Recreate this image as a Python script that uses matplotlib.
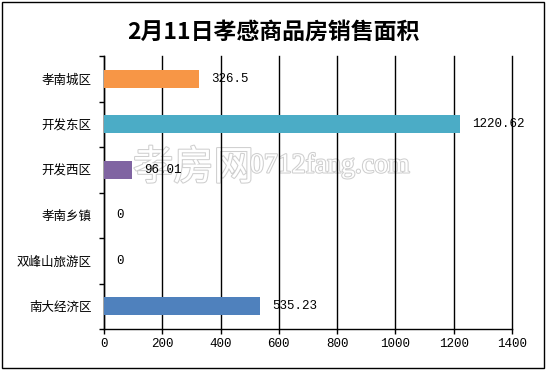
import matplotlib
matplotlib.use("Agg")
import matplotlib.pyplot as plt
import matplotlib.patheffects as pe
from matplotlib.patches import Rectangle

plt.rcParams["font.family"] = ["Noto Sans CJK SC", "DejaVu Sans"]

districts = ["孝南城区", "开发东区", "开发西区", "孝南乡镇", "双峰山旅游区", "南大经济区"]
areas = [326.5, 1220.62, 96.01, 0, 0, 535.23]
value_labels = ["326.5", "1220.62", "96.01", "0", "0", "535.23"]
colors = ["#F79646", "#4BACC6", "#8064A2", "#4F81BD", "#4F81BD", "#4F81BD"]
x_ticks = [0, 200, 400, 600, 800, 1000, 1200, 1400]
MONO = ["Liberation Mono", "DejaVu Sans Mono"]

W, H = 547, 370
fig = plt.figure(figsize=(W / 100, H / 100), dpi=100)
fig.patch.set_facecolor("white")
fig.patches.append(Rectangle((2 / W, 2 / H), 542 / W, 366 / H, transform=fig.transFigure,
                             fill=False, ec="black", lw=1.0))

# plot area: x 104..512, y 56..329 px
ax = fig.add_axes([104 / W, (H - 329) / H, 408 / W, 273 / H])
ypos = list(range(len(districts)))
ax.barh(ypos, areas, height=0.4, color=colors, zorder=3)
ax.set_ylim(len(districts) - 0.5, -0.5)
ax.set_xlim(0, 1400)
ax.set_xticks(x_ticks)
ax.set_xticklabels([str(t) for t in x_ticks], family=MONO, fontsize=9)
ax.set_yticks(ypos)
ax.set_yticklabels(districts, fontsize=9)
ax.set_yticks([i - 0.5 for i in range(len(districts) + 1)], minor=True)
ax.tick_params(axis="y", which="major", length=0, pad=9)
ax.tick_params(axis="y", which="minor", length=3.5, width=1, direction="out")
ax.tick_params(axis="x", length=3.5, width=1, direction="out", pad=3)
ax.grid(axis="x", color="black", lw=1.0, zorder=1)
for gl in ax.get_xgridlines():
    gl.set_clip_on(False)
for s in ["top", "right"]:
    ax.spines[s].set_visible(False)
for s in ["left", "bottom"]:
    ax.spines[s].set_linewidth(1.0)

for y, v, lab in zip(ypos, areas, value_labels):
    ax.annotate(lab, (v, y), xytext=(9, 0), textcoords="offset points", va="center",
                ha="left", fontsize=9, family=MONO, zorder=5)

# watermark, under the grid lines and labels
wm = [pe.withStroke(linewidth=1.5, foreground="#cfcfcf")]
ax.text(133 / W, 1 - 168 / H, "孝房网", transform=fig.transFigure, fontsize=29, color="white",
        va="center", ha="left", path_effects=wm, zorder=0.5)
ax.text(250 / W, 1 - 166 / H, "0712fang.com", transform=fig.transFigure, fontsize=20,
        color="white", va="center", ha="left", family=["Liberation Serif", "DejaVu Serif"],
        path_effects=wm, zorder=0.5)

fig.text(0.5, 1 - 32 / H, "2月11日孝感商品房销售面积", ha="center", va="center",
         fontsize=16.5, fontweight="bold")

fig.savefig("out.png", dpi=100)
